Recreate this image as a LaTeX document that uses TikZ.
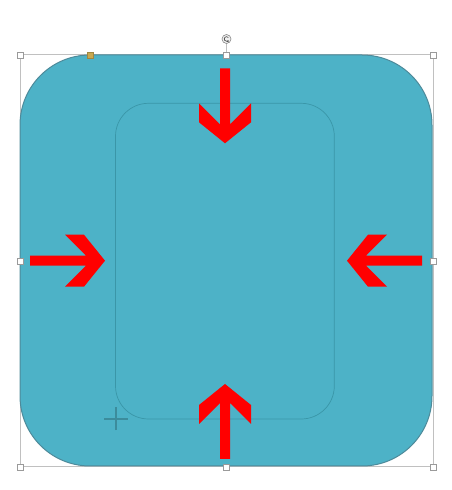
\documentclass[tikz,border=0pt]{standalone}
\usetikzlibrary{arrows.meta}
\definecolor{shapefill}{RGB}{77,178,199}
\definecolor{shapeedge}{RGB}{78,138,154}
\definecolor{inneredge}{RGB}{58,150,168}
\definecolor{selgray}{RGB}{192,192,192}
\definecolor{handlegold}{RGB}{200,168,80}
\definecolor{crossteal}{RGB}{60,140,156}
\tikzset{
  x=1pt, y=1pt,
  outershape/.style={fill=shapefill, draw=shapeedge, line width=1pt, rounded corners=70pt},
  innershape/.style={draw=inneredge, line width=0.7pt, rounded corners=33pt},
  selframe/.style={draw=selgray, line width=1pt},
  handlebox/.style={draw=selgray!80!black, fill=white, line width=0.6pt, minimum size=6pt, inner sep=0pt, rectangle},
  adjbox/.style={draw=handlegold!80!black, fill=handlegold, line width=0.5pt, minimum size=6pt, inner sep=0pt, rectangle},
  redarrow/.style={fill=red, draw=none},
  pics/blockarrow/.style={code={
    \fill[redarrow] (-75,5) -- (-19,5) -- (-40,26) -- (-21,26) -- (0,0) -- (-21,-26) -- (-40,-26) -- (-19,-5) -- (-75,-5) -- cycle;
  }}
}
\begin{document}
\begin{tikzpicture}
\useasboundingbox (0,0) rectangle (452,490);
% selection frame
\draw[selframe] (20,23) rectangle (433,435);
\draw[selframe] (226.5,435) -- (226.5,447);
% outer rounded square
\path[outershape] (20,24) rectangle (432,435);
% inner rounded rectangle
\path[innershape] (115.5,71) rectangle (334.3,386.7);
% arrows
\pic[rotate=-90] at (225,346.7) {blockarrow};
\pic[rotate=90] at (225,106) {blockarrow};
\pic at (105,229.3) {blockarrow};
\pic[rotate=180] at (347,229.3) {blockarrow};
% cursor cross
\draw[crossteal, line width=2pt] (104,71) -- (127.5,71);
\draw[crossteal, line width=2pt] (115.7,59.5) -- (115.7,83);
% handles
\node[handlebox] (hTL) at (20,435) {};
\node[handlebox] (hTM) at (226.5,435) {};
\node[handlebox] (hTR) at (433,435) {};
\node[handlebox] (hML) at (20,229) {};
\node[handlebox] (hMR) at (433,229) {};
\node[handlebox] (hBL) at (20,23) {};
\node[handlebox] (hBM) at (226.5,23) {};
\node[handlebox] (hBR) at (433,23) {};
\node[adjbox] (hAdj) at (90,435) {};
% rotation handle
\node[circle, draw=selgray!70!black, fill=gray!12, line width=0.6pt, minimum size=9pt, inner sep=0pt] (hRot) at (226.5,451) {};
\draw[gray!40!black, line width=0.6pt, -{Stealth[length=2pt,width=2pt]}] ([shift={(40:2.3pt)}]hRot.center) arc[start angle=40, end angle=330, radius=2.3pt];
\end{tikzpicture}
\end{document}
